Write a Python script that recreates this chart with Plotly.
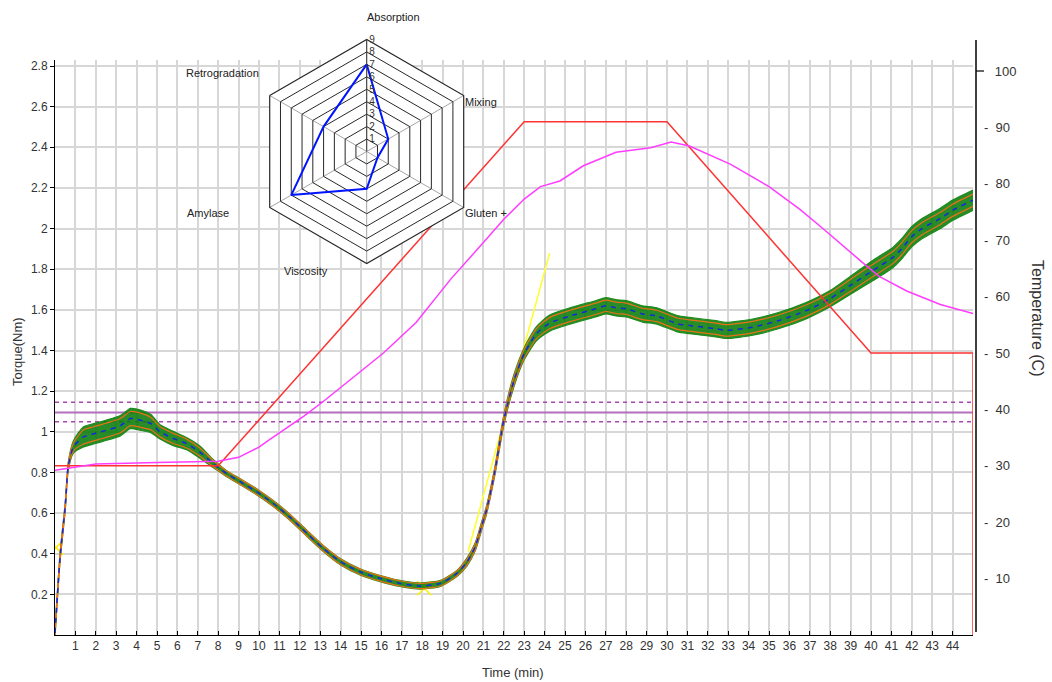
import plotly.graph_objects as go

# ---------------- data ----------------
TIME = [0, 0.25, 0.5, 0.65, 0.9, 1.4, 1.9, 2.5, 3.2, 3.7, 4.2, 4.7, 5.15, 5.8, 6.45,
        7.1, 7.75, 8.4, 9.1, 9.9, 10.7, 11.5, 12.35, 13.15, 14.0, 14.95, 15.9, 16.9,
        17.9, 18.9, 19.7, 20.2, 20.6, 20.9, 21.15, 21.55, 22.0, 22.5, 23.0, 23.6,
        24.25, 25.25, 26.5, 27.0, 27.5, 28.0, 28.8, 29.5, 30.5, 31.1, 32.4, 32.9,
        34.2, 35.5, 36.85, 38.0, 39.1, 40.1, 41.1, 41.5, 42.0, 42.5, 43.4, 44.0, 45.0]
TORQUE = [0.01, 0.385, 0.63, 0.83, 0.925, 0.975, 0.99, 1.007, 1.03, 1.065, 1.057, 1.04,
          1.0, 0.967, 0.942, 0.90, 0.844, 0.795, 0.753, 0.704, 0.647, 0.581, 0.50, 0.426,
          0.36, 0.311, 0.279, 0.254, 0.241, 0.254, 0.303, 0.36, 0.434, 0.532, 0.614, 0.80,
          1.057, 1.253, 1.384, 1.483, 1.535, 1.57, 1.605, 1.62, 1.61, 1.605, 1.58, 1.57,
          1.532, 1.523, 1.507, 1.499, 1.515, 1.548, 1.597, 1.655, 1.728, 1.794, 1.86,
          1.90, 1.96, 2.0, 2.05, 2.09, 2.14]
# half-width of the noisy green band and of the orange envelope
NOISE = [0.02, 0.02, 0.02, 0.02, 0.03, 0.05, 0.05, 0.05, 0.05, 0.05, 0.05, 0.045,
         0.035, 0.035, 0.03, 0.03, 0.02, 0.015, 0.015, 0.015, 0.015, 0.015, 0.015, 0.015,
         0.015, 0.015, 0.015, 0.015, 0.015, 0.015, 0.015, 0.02, 0.02, 0.02, 0.02, 0.02,
         0.025, 0.03, 0.03, 0.035, 0.04, 0.04, 0.04, 0.04, 0.04, 0.04, 0.04, 0.04,
         0.04, 0.04, 0.04, 0.04, 0.04, 0.04, 0.04, 0.04, 0.045, 0.05, 0.05,
         0.05, 0.05, 0.05, 0.05, 0.05, 0.05]
ENVELOPE = [0.015, 0.015, 0.015, 0.015, 0.02, 0.035, 0.035, 0.035, 0.035, 0.035, 0.035,
            0.03, 0.025, 0.025, 0.022, 0.02, 0.015, 0.013, 0.013, 0.013, 0.013, 0.013,
            0.013, 0.013, 0.013, 0.013, 0.013, 0.013, 0.013, 0.013, 0.013, 0.015, 0.015,
            0.015, 0.015, 0.015, 0.018, 0.02, 0.022, 0.025, 0.028, 0.028, 0.028, 0.028,
            0.028, 0.028, 0.028, 0.028, 0.028, 0.028, 0.028, 0.028, 0.028, 0.028, 0.028,
            0.028, 0.03, 0.03, 0.03, 0.03, 0.03, 0.03, 0.03, 0.03, 0.03]

TEMP_T = [0, 8, 23, 30, 40, 45, 45]
TEMP_SET = [30, 30, 91, 91, 50, 50, 0]

DOUGH_T = [0, 2, 5, 8, 9, 10, 10.5, 12.2, 13.15, 14.5, 16.1, 17.7, 19.4, 21.0, 22.0,
           23.0, 23.8, 24.75, 25.9, 27.5, 29.2, 30.2, 31.1, 33.1, 35.0, 36.5, 37.7,
           39.5, 40.4, 41.75, 43.4, 45.0]
DOUGH_TEMP = [29.2, 30.3, 30.6, 30.8, 31.5, 33.3, 34.6, 38.8, 41.4, 45.3, 50.0, 55.4,
              63.1, 69.6, 73.7, 77.3, 79.5, 80.5, 83.2, 85.6, 86.4, 87.4, 86.7, 83.5,
              79.5, 75.5, 71.9, 66.3, 63.6, 61.0, 58.6, 57.0]

TARGET_X = [0, 45]
TARGET = 1.095
TARGET_HI = 1.145
TARGET_LO = 1.05

TANGENT_T = [20.25, 24.25]
TANGENT = [0.41, 1.88]
POINTS_T = [0.05, 18.1]
POINTS = [0.43, 0.23]

RADAR_CATS = ["Absorption", "Mixing", "Gluten +", "Viscosity", "Amylase", "Retrogradation"]
RADAR_VALS = [7, 2, 1, 3, 7, 4]
RADAR_TICKS = [1, 2, 3, 4, 5, 6, 7, 8, 9]

X_TICKS = list(range(0, 46))
Y_TICKS = [0.2, 0.4, 0.6, 0.8, 1, 1.2, 1.4, 1.6, 1.8, 2, 2.2, 2.4, 2.6, 2.8]
T_TICKS = [10, 20, 30, 40, 50, 60, 70, 80, 90, 100]

# ---------------- geometry (reference pixels -> paper) ----------------
W, H = 1052, 682
ML, MR, MT, MB = 55, 79, 10, 47
PW, PH = W - ML - MR, H - MT - MB
PLOT_TOP = 60                # reference pixel row of the plot top
BOTTOM = 635                 # reference pixel row of the x axis


def px(x):
    return (x - ML) / PW


def py(y):
    return (BOTTOM - y) / PH


FONT = "Liberation Sans, Arial, sans-serif"

fig = go.Figure()

# target lines
for lvl, dash, col, wd in [(TARGET_HI, "4px,4px", "rgb(170,70,175)", 1.5),
                           (TARGET, "solid", "rgb(180,110,190)", 2.2),
                           (TARGET_LO, "4px,4px", "rgb(170,70,175)", 1.5)]:
    fig.add_trace(go.Scatter(x=TARGET_X, y=[lvl, lvl], mode="lines",
                             line=dict(color=col, width=wd, dash=dash), hoverinfo="skip"))

# temperatures (right axis)
fig.add_trace(go.Scatter(x=TEMP_T, y=TEMP_SET, yaxis="y2", mode="lines",
                         line=dict(color="rgb(255,50,50)", width=1.5)))
fig.add_trace(go.Scatter(x=DOUGH_T, y=DOUGH_TEMP, yaxis="y2", mode="lines",
                         line=dict(color="rgb(255,60,255)", width=1.5)))

# yellow tangent and markers
fig.add_trace(go.Scatter(x=TANGENT_T, y=TANGENT, mode="lines",
                         line=dict(color="rgb(255,255,40)", width=1.5)))
fig.add_trace(go.Scatter(x=POINTS_T, y=POINTS, mode="markers",
                         marker=dict(symbol="x-thin-open", size=14, color="rgb(255,240,0)",
                                     line=dict(color="rgb(255,240,0)", width=1.5))))

# torque band
lower = [c - w for c, w in zip(TORQUE, NOISE)]
upper = [c + w for c, w in zip(TORQUE, NOISE)]
fig.add_trace(go.Scatter(x=TIME, y=lower, mode="lines",
                         line=dict(color="rgb(30,140,30)", width=1.2, shape="spline",
                                   smoothing=0.6)))
fig.add_trace(go.Scatter(x=TIME, y=upper, mode="lines", fill="tonexty",
                         fillcolor="rgba(10,125,10,0.88)",
                         line=dict(color="rgb(30,140,30)", width=1.2, shape="spline",
                                   smoothing=0.6)))
for sgn in (-1, 1):
    fig.add_trace(go.Scatter(x=TIME, y=[c + sgn * e for c, e in zip(TORQUE, ENVELOPE)],
                             mode="lines",
                             line=dict(color="rgba(255,110,20,0.9)", width=1.2,
                                       shape="spline", smoothing=0.6)))
fig.add_trace(go.Scatter(x=TIME, y=TORQUE, mode="lines",
                         line=dict(color="rgb(20,40,220)", width=1.5, dash="5px,5px",
                                   shape="spline", smoothing=0.6)))

# radar
fig.add_trace(go.Scatterpolar(r=RADAR_VALS + RADAR_VALS[:1],
                              theta=RADAR_CATS + RADAR_CATS[:1], mode="lines",
                              line=dict(color="rgb(0,20,255)", width=2), subplot="polar"))

cx, cy, R = 366.7, 151.5, 112
radar_labels = [("Absorption", 393.7, 16.7), ("Mixing", 481.3, 101.7),
                ("Gluten +", 486.3, 213.3), ("Viscosity", 305.7, 270.7),
                ("Amylase", 207.7, 213.3), ("Retrogradation", 222.7, 72.7)]
annotations = [dict(text=t, x=px(x), y=py(y), xref="paper", yref="paper",
                    xanchor="center", yanchor="middle",
                    showarrow=False, font=dict(family=FONT, size=11, color="#222"))
               for t, x, y in radar_labels]

annotations += [
    dict(text="Time (min)", x=px(513), y=py(672), xref="paper", yref="paper",
         xanchor="center", yanchor="middle",
         showarrow=False, font=dict(family=FONT, size=13, color="#333")),
    dict(text="Torque(Nm)", x=px(17), y=py(352), xref="paper", yref="paper",
         xanchor="center", yanchor="middle",
         showarrow=False, textangle=-90, font=dict(family=FONT, size=13, color="#333")),
    dict(text="Temperature (C)", x=px(1038), y=py(318), xref="paper", yref="paper",
         xanchor="center", yanchor="middle",
         showarrow=False, textangle=90, font=dict(family=FONT, size=16, color="#333")),
]

shapes = [
    dict(type="line", xref="paper", yref="paper", x0=px(976), x1=px(976),
         y0=py(632), y1=py(40), line=dict(color="black", width=1.5)),
    dict(type="line", xref="paper", yref="paper", x0=px(976), x1=px(984),
         y0=py(71), y1=py(71), line=dict(color="black", width=1.2)),
]

ymax = 2.8 * (BOTTOM - PLOT_TOP) / (BOTTOM - 66)
tmax = 100 * (BOTTOM - PLOT_TOP) / (BOTTOM - 71)

fig.update_layout(
    width=W, height=H, autosize=False,
    margin=dict(l=ML, r=MR, t=MT, b=MB, pad=0, autoexpand=False),
    paper_bgcolor="white", plot_bgcolor="white",
    showlegend=False,
    font=dict(family=FONT, size=12, color="#333"),
    xaxis=dict(range=[0, 45], tickvals=X_TICKS,
               ticktext=["" if v in (0, 45) else str(v) for v in X_TICKS],
               ticks="inside", ticklen=4, tickcolor="black",
               showline=True, linecolor="black", linewidth=1,
               showgrid=True, gridcolor="rgb(215,215,215)", gridwidth=1.6,
               zeroline=False, tickfont=dict(size=12, color="#333")),
    yaxis=dict(domain=[0, (BOTTOM - PLOT_TOP) / PH], range=[0, ymax],
               tickvals=Y_TICKS, ticktext=[f"{v:g}" for v in Y_TICKS],
               ticks="outside", ticklen=4, tickcolor="black",
               showline=True, linecolor="black", linewidth=1,
               showgrid=True, gridcolor="rgb(215,215,215)", gridwidth=1.6,
               zeroline=False, tickfont=dict(size=12, color="#333")),
    yaxis2=dict(overlaying="y", side="right", range=[0, tmax],
                tickvals=T_TICKS,
                ticktext=["-\u00a0\u00a0" + str(v) for v in T_TICKS[:-1]] + ["\u00a0\u00a0\u00a0100"],
                ticks="", showgrid=False, showline=False, zeroline=False,
                ticklabelstandoff=10, tickfont=dict(size=13, color="#333")),
    polar=dict(
        domain=dict(x=[px(cx - R), px(cx + R)], y=[py(cy + R), py(cy - R)]),
        bgcolor="white", gridshape="linear", hole=0,
        radialaxis=dict(range=[0, 9], tickvals=RADAR_TICKS, angle=90, tickangle=90,
                        showline=True, linecolor="rgb(60,60,60)", linewidth=1,
                        gridcolor="rgb(40,40,40)", gridwidth=1,
                        ticks="", tickfont=dict(size=10, color="#333"),
                        showticklabels=True),
        angularaxis=dict(direction="clockwise", rotation=90, showticklabels=False,
                         ticks="", linecolor="rgb(40,40,40)", linewidth=1.2,
                         gridcolor="rgb(165,165,165)", gridwidth=1),
    ),
    annotations=annotations,
    shapes=shapes,
)

fig.write_html("out.html", config={"displayModeBar": False},
               post_script="document.body.style.margin='0';document.body.style.overflow='hidden';")
